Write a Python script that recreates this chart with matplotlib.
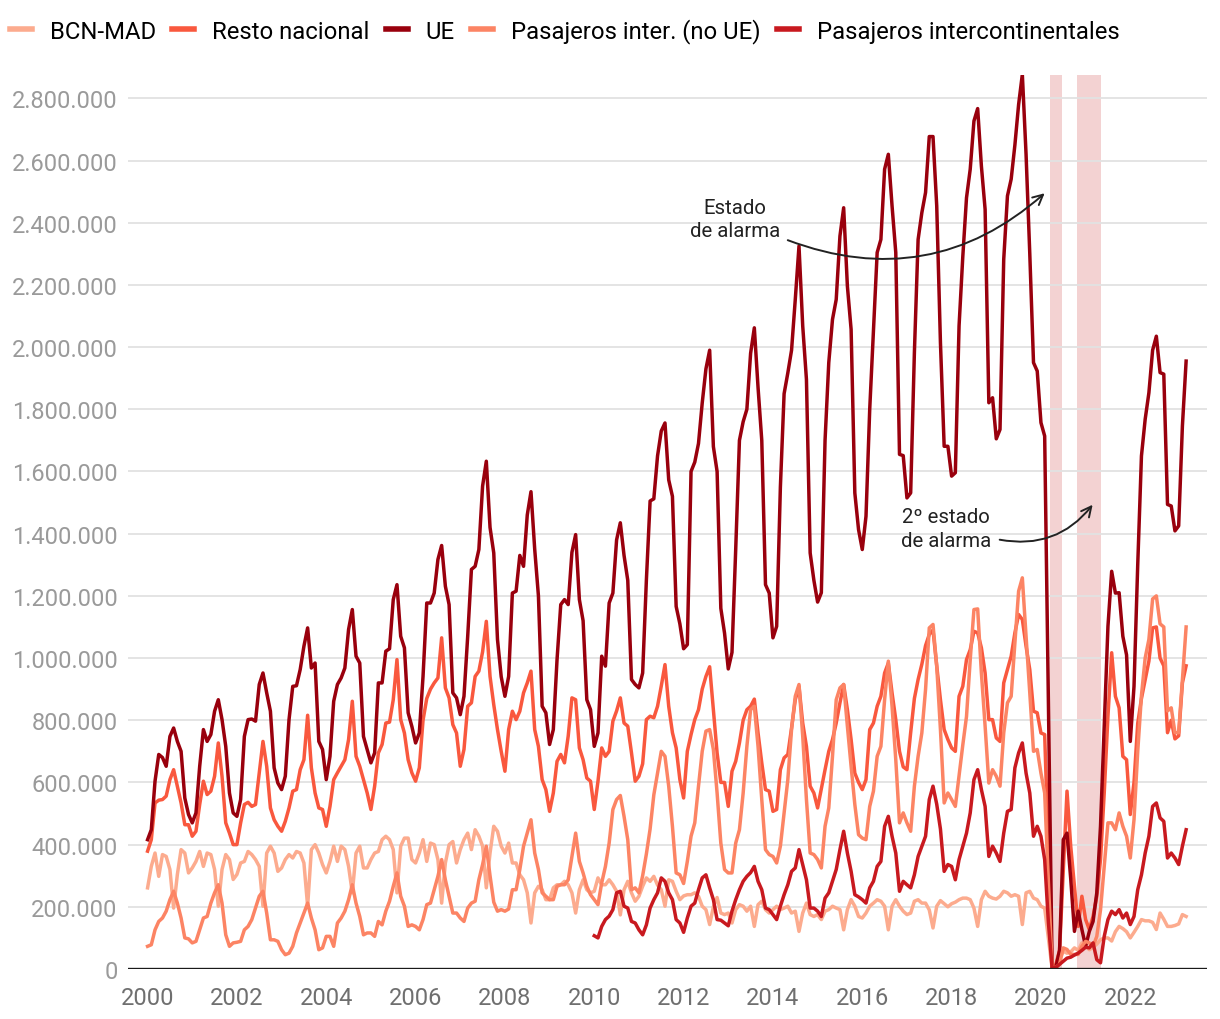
import numpy as np
import matplotlib.pyplot as plt
from matplotlib.lines import Line2D

plt.rcParams['font.family'] = ['Roboto', 'DejaVu Sans']

# pasajeros mensuales (miles), enero 2000 - abril 2023
bcn_mad = [
    261, 330, 373, 298, 368, 362, 320, 196, 304, 384, 373, 309,
    325, 346, 378, 330, 373, 368, 320, 202, 320, 368, 352, 288,
    304, 341, 346, 378, 368, 352, 330, 202, 373, 395, 373, 314,
    325, 352, 368, 357, 378, 373, 341, 202, 384, 400, 373, 336,
    309, 346, 395, 346, 395, 384, 330, 245, 373, 395, 325, 325,
    352, 373, 378, 416, 427, 416, 384, 245, 395, 421, 421, 352,
    341, 373, 416, 346, 405, 400, 352, 212, 341, 400, 410, 341,
    384, 416, 437, 384, 448, 427, 395, 261, 373, 459, 443, 395,
    373, 405, 341, 341, 303, 287, 245, 148, 245, 266, 255, 223,
    223, 261, 271, 271, 282, 271, 245, 180, 255, 287, 255, 245,
    250, 293, 271, 271, 287, 271, 250, 174, 255, 282, 245, 218,
    234, 266, 293, 282, 298, 270, 255, 202, 287, 282, 250, 223,
    235, 239, 239, 245, 234, 202, 191, 143, 200, 230, 180, 175,
    180, 148, 191, 207, 202, 186, 202, 137, 207, 218, 191, 180,
    191, 202, 191, 196, 202, 180, 186, 121, 180, 212, 175, 169,
    175, 159, 186, 191, 202, 196, 191, 126, 191, 223, 202, 169,
    164, 180, 202, 212, 223, 218, 202, 126, 202, 223, 202, 186,
    175, 180, 218, 223, 212, 212, 190, 132, 202, 220, 210, 200,
    210, 215, 223, 228, 228, 223, 196, 137, 223, 250, 234, 228,
    225, 234, 250, 245, 234, 239, 234, 143, 245, 250, 228, 223,
    202, 196, 100, 2, 5, 35, 57, 51, 55, 68, 60, 84,
    75, 62, 70, 80, 94, 100, 100, 90, 120, 137, 130, 120,
    100, 118, 137, 159, 155, 155, 150, 127, 180, 160, 137, 137,
    140, 145, 175, 169,
]

resto_nacional = [
    379, 416, 534, 543, 545, 556, 609, 641, 588, 534, 464, 464,
    427, 443, 529, 604, 561, 572, 620, 727, 620, 470, 437, 400,
    400, 470, 529, 536, 523, 529, 630, 732, 652, 518, 480, 459,
    443, 475, 518, 572, 577, 641, 673, 816, 647, 566, 518, 513,
    459, 523, 609, 631, 652, 673, 738, 861, 684, 652, 609, 566,
    513, 588, 695, 722, 791, 794, 866, 995, 802, 759, 673, 631,
    604, 647, 800, 870, 900, 920, 936, 1065, 904, 872, 786, 759,
    652, 706, 845, 856, 941, 958, 1020, 1118, 941, 850, 770, 700,
    636, 770, 829, 802, 829, 888, 920, 958, 770, 716, 609, 577,
    507, 566, 668, 690, 663, 749, 872, 866, 711, 673, 614, 604,
    513, 604, 711, 684, 700, 797, 830, 872, 791, 781, 695, 604,
    620, 660, 802, 813, 808, 845, 910, 979, 845, 760, 711, 609,
    550, 700, 754, 802, 834, 900, 941, 972, 834, 695, 600, 600,
    523, 636, 668, 727, 800, 834, 845, 868, 759, 663, 577, 572,
    507, 513, 641, 679, 690, 775, 866, 909, 791, 716, 588, 566,
    518, 580, 641, 700, 738, 791, 856, 915, 834, 738, 630, 600,
    577, 609, 770, 791, 845, 877, 952, 984, 888, 802, 700, 650,
    641, 760, 870, 931, 980, 1040, 1076, 1090, 975, 866, 770, 738,
    711, 700, 877, 909, 995, 1027, 1086, 1081, 1033, 952, 802, 802,
    743, 732, 920, 963, 1006, 1081, 1140, 1124, 1038, 963, 829, 824,
    759, 754, 380, 5, 15, 60, 317, 572, 395, 266, 137, 234,
    159, 127, 169, 234, 352, 566, 813, 1017, 877, 840, 684, 673,
    497, 600, 790, 870, 930, 990, 1097, 1100, 1000, 975, 760, 800,
    740, 750, 920, 975,
]

ue = [
    416, 448, 604, 690, 680, 652, 748, 775, 732, 700, 550, 497,
    470, 502, 652, 770, 732, 754, 829, 866, 802, 716, 566, 502,
    491, 545, 748, 802, 804, 797, 915, 952, 888, 829, 647, 598,
    577, 620, 802, 909, 911, 963, 1038, 1097, 968, 984, 732, 706,
    609, 684, 861, 915, 936, 968, 1092, 1156, 1006, 984, 748, 706,
    663, 695, 920, 920, 1022, 1030, 1188, 1236, 1070, 1033, 824, 780,
    727, 759, 941, 1177, 1177, 1209, 1317, 1362, 1231, 1172, 888, 872,
    818, 877, 1070, 1285, 1295, 1349, 1553, 1633, 1420, 1338, 1060, 940,
    877, 941, 1209, 1215, 1330, 1295, 1460, 1535, 1350, 1200, 845, 824,
    722, 770, 995, 1172, 1188, 1172, 1340, 1397, 1188, 1120, 866, 834,
    716, 759, 1006, 974, 1177, 1209, 1380, 1435, 1330, 1250, 931, 915,
    904, 952, 1250, 1505, 1512, 1650, 1730, 1756, 1573, 1520, 1166, 1110,
    1030, 1043, 1600, 1630, 1690, 1820, 1930, 1990, 1680, 1600, 1160, 1080,
    965, 1018, 1350, 1700, 1760, 1800, 1980, 2062, 1870, 1700, 1236, 1209,
    1065, 1102, 1550, 1850, 1917, 1990, 2153, 2325, 2068, 1896, 1338, 1250,
    1180, 1210, 1700, 1950, 2089, 2153, 2357, 2448, 2196, 2057, 1531, 1413,
    1349, 1456, 1800, 2050, 2304, 2346, 2572, 2620, 2454, 2304, 1655, 1651,
    1515, 1531, 1982, 2346, 2432, 2497, 2677, 2677, 2454, 2014, 1681, 1681,
    1585, 1596, 2068, 2290, 2480, 2572, 2727, 2767, 2582, 2443, 1821, 1837,
    1705, 1735, 2282, 2486, 2540, 2650, 2780, 2877, 2620, 2300, 1950, 1923,
    1757, 1714, 850, 5, 5, 60, 416, 437, 290, 121, 186, 127,
    73, 121, 153, 245, 459, 781, 1102, 1279, 1209, 1210, 1070, 1010,
    732, 909, 1300, 1650, 1768, 1853, 1990, 2035, 1918, 1913, 1494, 1489,
    1409, 1425, 1746, 1955,
]

inter_no_ue = [
    73, 78, 126, 153, 164, 186, 223, 250, 212, 164, 100, 97,
    84, 89, 126, 164, 169, 212, 245, 271, 212, 110, 73, 84,
    86, 89, 126, 137, 159, 196, 234, 250, 180, 94, 94, 89,
    62, 46, 51, 73, 116, 148, 180, 212, 164, 126, 62, 68,
    105, 105, 73, 148, 164, 186, 223, 271, 212, 169, 110, 116,
    116, 105, 153, 142, 186, 218, 266, 309, 234, 202, 137, 142,
    137, 126, 159, 207, 212, 255, 298, 352, 287, 234, 180, 180,
    164, 153, 196, 212, 218, 287, 336, 395, 300, 215, 186, 191,
    186, 193, 255, 255, 320, 395, 437, 480, 373, 320, 245, 234,
    223, 223, 266, 271, 271, 287, 362, 437, 346, 309, 266, 239,
    223, 207, 277, 330, 405, 513, 545, 558, 491, 416, 255, 261,
    245, 300, 370, 450, 560, 630, 700, 684, 588, 459, 309, 303,
    275, 346, 427, 470, 588, 700, 765, 770, 706, 566, 405, 320,
    309, 309, 405, 448, 566, 716, 834, 845, 716, 545, 384, 368,
    362, 341, 395, 502, 609, 770, 877, 915, 749, 545, 373, 368,
    352, 325, 459, 518, 684, 866, 904, 915, 781, 652, 529, 432,
    421, 416, 523, 572, 684, 716, 866, 990, 845, 673, 470, 502,
    470, 443, 588, 684, 759, 899, 1097, 1108, 974, 770, 534, 566,
    545, 523, 622, 720, 812, 995, 1156, 1158, 952, 781, 598, 641,
    620, 588, 759, 856, 877, 1049, 1215, 1258, 1070, 888, 700, 706,
    630, 566, 280, 5, 5, 15, 68, 63, 47, 47, 47, 73,
    89, 84, 73, 105, 190, 330, 470, 470, 448, 502, 459, 427,
    357, 480, 700, 880, 1000, 1060, 1190, 1200, 1110, 1100, 830, 840,
    760, 760, 930, 1100,
]

# la serie intercontinental empieza en enero de 2010
intercontinentales = [np.nan] * 120 + [
    107, 100, 137, 159, 170, 191, 245, 250, 202, 196, 153, 148,
    126, 110, 142, 196, 223, 245, 293, 282, 245, 223, 159, 148,
    118, 164, 202, 212, 255, 293, 303, 261, 223, 159, 157, 148,
    139, 186, 223, 255, 282, 298, 310, 330, 282, 255, 196, 191,
    175, 159, 202, 239, 271, 314, 325, 384, 336, 287, 196, 196,
    186, 169, 228, 245, 282, 320, 384, 443, 373, 314, 239, 232,
    223, 212, 261, 282, 330, 346, 459, 491, 427, 373, 250, 282,
    271, 261, 303, 362, 395, 427, 545, 588, 530, 450, 314, 336,
    330, 287, 352, 395, 437, 502, 609, 641, 577, 523, 362, 395,
    373, 346, 437, 507, 513, 647, 695, 727, 630, 566, 427, 459,
    427, 352, 150, 3, 5, 15, 25, 35, 38, 45, 51, 60,
    70, 68, 84, 30, 20, 105, 159, 186, 175, 191, 164, 180,
    143, 169, 255, 303, 373, 427, 523, 534, 486, 475, 357, 373,
    357, 336, 395, 448,
]

series = [
    ('BCN-MAD', bcn_mad, '#fcab8e'),
    ('Resto nacional', resto_nacional, '#f9583e'),
    ('UE', ue, '#99000d'),
    ('Pasajeros inter. (no UE)', inter_no_ue, '#fc8464'),
    ('Pasajeros intercontinentales', intercontinentales, '#c8191f'),
]

# periodos de estado de alarma (años decimales)
alarma1 = (2020 + 73 / 366, 2020 + 172 / 366)
alarma2 = (2020 + 298 / 366, 2021 + 128 / 365)

meses = 2000 + np.arange(len(ue)) / 12

fig = plt.figure(figsize=(12.2, 10.2), dpi=100)
ax = fig.add_axes([0.105, 0.049, 0.884, 0.8765])

ax.axvspan(*alarma1, color='#f3d2d2', lw=0, zorder=0)
ax.axvspan(*alarma2, color='#f3d2d2', lw=0, zorder=0)

for nombre, valores, color in series:
    ax.plot(meses, np.array(valores, dtype=float) * 1000, color=color, lw=2.5,
            solid_joinstyle='round', zorder=3)

ax.set_xlim(1999.564, 2023.708)
ax.set_ylim(0, 2875000)

yt = np.arange(0, 2800001, 200000)
ax.set_yticks(yt)
ax.set_yticklabels([f'{v:,.0f}'.replace(',', '.') for v in yt])
ax.set_xticks(range(2000, 2023, 2))
ax.tick_params(axis='y', length=0, pad=7.5, labelsize=17, labelcolor='#9a9a9a')
ax.tick_params(axis='x', length=0, pad=12, labelsize=17, labelcolor='#6f6f6f')
ax.grid(axis='y', color='#e2e2e2', lw=1.3, zorder=1)
ax.set_axisbelow(True)
for s in ax.spines.values():
    s.set_visible(False)
ax.axhline(0, color='#1a1a1a', lw=2.4, zorder=4)


def px(x, y):
    # coordenadas de la imagen -> datos
    return 2000 + (x - 147.5) / 44.69, (970 - y) * 3210.7


ax.text(*px(735, 219), 'Estado\nde alarma', ha='center', va='center',
        fontsize=14.7, color='#222222', linespacing=1.3)
ax.annotate('', xy=px(1045, 193), xytext=px(788, 240),
            arrowprops=dict(arrowstyle='->', color='#222222', lw=1.4,
                            connectionstyle='arc3,rad=0.3',
                            shrinkA=0, shrinkB=0, mutation_scale=18))
ax.text(*px(946, 529), '2º estado\nde alarma', ha='center', va='center',
        fontsize=14.7, color='#222222', linespacing=1.3)
ax.annotate('', xy=px(1093, 505), xytext=px(1000, 540),
            arrowprops=dict(arrowstyle='->', color='#222222', lw=1.4,
                            connectionstyle='arc3,rad=0.3',
                            shrinkA=0, shrinkB=0, mutation_scale=18))

handles = [Line2D([], [], color=c, lw=4) for _, _, c in series]
fig.legend(handles, [n for n, _, _ in series], loc='upper left',
           bbox_to_anchor=(0.0082, 0.981), ncol=5, frameon=False, fontsize=17.2,
           handlelength=0.92, handletextpad=0.75, columnspacing=0.68,
           borderaxespad=0, borderpad=0)

fig.savefig('out.png', dpi=100)
